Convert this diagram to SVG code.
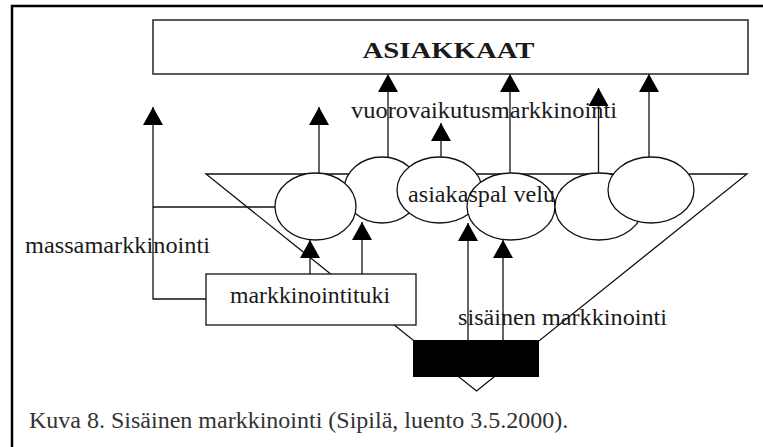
<svg xmlns="http://www.w3.org/2000/svg" width="763" height="447" viewBox="0 0 763 447">
<style>
.ln{fill:none;stroke:#111;stroke-width:1.3}
.nd{fill:#fff;stroke:#111;stroke-width:1.3}
.tx{font-family:"Liberation Serif","Times New Roman",serif;font-size:24px;fill:#1a1a1a}
.cap{font-family:"Liberation Serif","Times New Roman",serif;font-size:24px;fill:#333}
</style>
<defs>
<marker id="ah" viewBox="0 0 18 20" refX="18" refY="10" markerWidth="18" markerHeight="20" markerUnits="userSpaceOnUse" orient="auto">
<path d="M0,0 L18,10 L0,20 z" fill="#000"/>
</marker>
</defs>
<rect width="763" height="447" fill="#fff"/>
<path d="M12,447 V6 H763" fill="none" stroke="#000" stroke-width="2.5"/>
<g id="funnel">
<polygon class="ln" points="206,174 747,174 476.5,391"/>
</g>
<g id="connectors">
<path class="ln" d="M206,299 H153 V107" marker-end="url(#ah)"/>
<path class="ln" d="M153,207 H275"/>
<path class="ln" d="M319,174 V107" marker-end="url(#ah)"/>
<path class="ln" d="M388,157 V74" marker-end="url(#ah)"/>
<path class="ln" d="M441,157 V123" marker-end="url(#ah)"/>
<path class="ln" d="M510,174 V74" marker-end="url(#ah)"/>
<path class="ln" d="M598.5,174 V88" marker-end="url(#ah)"/>
<path class="ln" d="M649,157 V74" marker-end="url(#ah)"/>
<path class="ln" d="M310,274 V240" marker-end="url(#ah)"/>
<path class="ln" d="M362,274 V222" marker-end="url(#ah)"/>
<path class="ln" d="M468,340 V223" marker-end="url(#ah)"/>
<path class="ln" d="M503,340 V240" marker-end="url(#ah)"/>
</g>
<g id="asiakkaat">
<rect x="153" y="20" width="595" height="54" fill="#fff" stroke="#333" stroke-width="1.6"/>
<text class="tx" x="448.5" y="58" text-anchor="middle" font-weight="bold" font-size="28" textLength="172" lengthAdjust="spacingAndGlyphs">ASIAKKAAT</text>
</g>
<g id="ellipse2"><ellipse class="nd" cx="382" cy="190" rx="38" ry="33"/></g>
<g id="ellipse1"><ellipse class="nd" cx="315.5" cy="206.5" rx="40.5" ry="33.5"/></g>
<g id="ellipse3"><ellipse class="nd" cx="439.5" cy="190" rx="42.5" ry="33"/></g>
<g id="ellipse4"><ellipse class="nd" cx="511" cy="206.5" rx="44" ry="33.5"/></g>
<g id="ellipse5"><ellipse class="nd" cx="599" cy="206.5" rx="44" ry="33.5"/></g>
<g id="ellipse6"><ellipse class="nd" cx="651" cy="190" rx="43" ry="33"/></g>
<g id="markkinointituki">
<rect class="nd" x="206" y="274" width="210" height="51"/>
<text class="tx" x="230" y="303" textLength="160" lengthAdjust="spacingAndGlyphs">markkinointituki</text>
</g>
<g id="sisainen">
<rect x="413" y="340" width="126" height="37" fill="#000"/>
</g>
<g id="labels">
<text class="tx" x="351" y="118" textLength="266" lengthAdjust="spacingAndGlyphs">vuorovaikutusmarkkinointi</text>
<text class="tx" x="408" y="202" textLength="147" lengthAdjust="spacingAndGlyphs">asiakaspal velu</text>
<text class="tx" x="25" y="253" textLength="185" lengthAdjust="spacingAndGlyphs">massamarkkinointi</text>
<text class="tx" x="458" y="325" textLength="209" lengthAdjust="spacingAndGlyphs">sisäinen markkinointi</text>
</g>
<text class="cap" x="29" y="428">Kuva 8. Sisäinen markkinointi (Sipilä, luento 3.5.2000).</text>
</svg>
